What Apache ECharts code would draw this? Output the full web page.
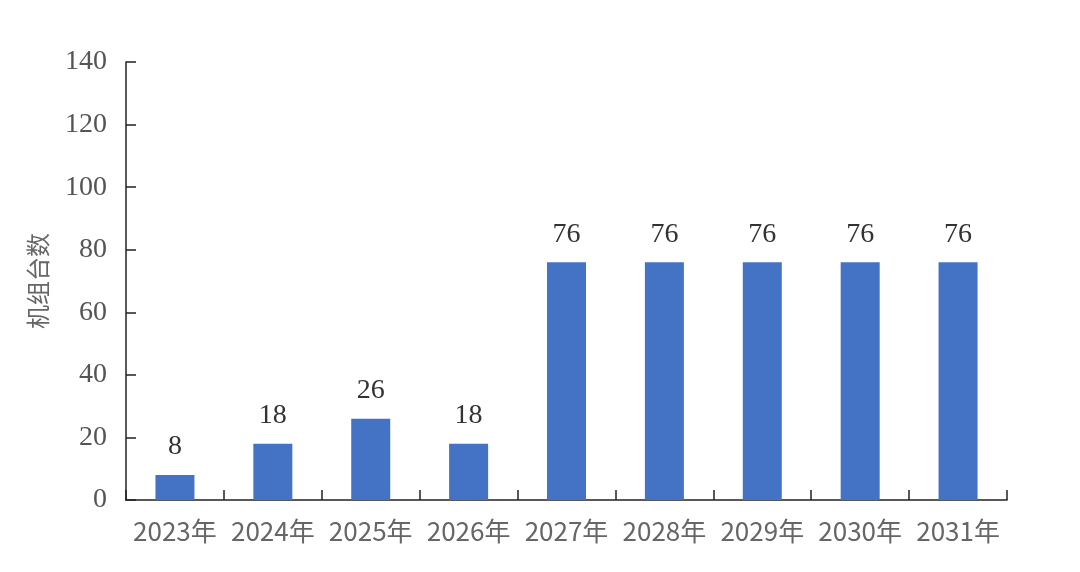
<!DOCTYPE html>
<html>
<head>
<meta charset="utf-8">
<script src="https://cdn.jsdelivr.net/npm/echarts@6/dist/echarts.min.js"></script>
<style>
html, body { margin: 0; padding: 0; background: #fff; }
#chart { width: 1080px; height: 572px; }
</style>
</head>
<body>
<div id="chart"></div>
<script>
// 年份
const categories = ['2023年', '2024年', '2025年', '2026年', '2027年', '2028年', '2029年', '2030年', '2031年'];
// 机组台数
const unitCounts = [8, 18, 26, 18, 76, 76, 76, 76, 76];
const yTicks = { min: 0, max: 140, interval: 20 };

const myChart = echarts.init(document.getElementById('chart'));
const option = {
	animation: false,
	grid: {
		left: 126,
		right: 73,
		top: 62,
		bottom: 72,
		containLabel: false,
	},
	xAxis: {
		type: 'category',
		data: categories,
		axisLine: { lineStyle: { color: '#222', width: 1.5 } },
		axisTick: { show: true, inside: true, interval: 0, length: 10, lineStyle: { color: '#222', width: 1.5 } },
		axisLabel: {
			interval: 0,
			hideOverlap: false,
			color: '#666',
			fontSize: 26,
			fontFamily: 'Noto Sans CJK SC',
			margin: 18,
		},
	},
	yAxis: {
		type: 'value',
		min: yTicks.min,
		max: yTicks.max,
		interval: yTicks.interval,
		name: '机组台数',
		nameLocation: 'middle',
		nameGap: 76,
		nameRotate: 90,
		nameTextStyle: { color: '#666', fontSize: 24, fontFamily: 'Noto Sans CJK SC' },
		axisLine: { show: true, lineStyle: { color: '#222', width: 1.5 } },
		axisTick: { show: true, inside: true, length: 10, lineStyle: { color: '#222', width: 1.5 } },
		splitLine: { show: false },
		axisLabel: {
			color: '#555',
			fontSize: 28,
			fontFamily: 'Liberation Serif',
			margin: 19,
		},
	},
	series: [
		{
			type: 'bar',
			data: unitCounts,
			barWidth: 39,
			itemStyle: { color: '#4472C4' },
			label: {
				show: true,
				position: 'top',
				distance: 14,
				color: '#333',
				fontSize: 28,
				fontFamily: 'Liberation Serif',
			},
		},
	],
};
myChart.setOption(option, true);
</script>
</body>
</html>
